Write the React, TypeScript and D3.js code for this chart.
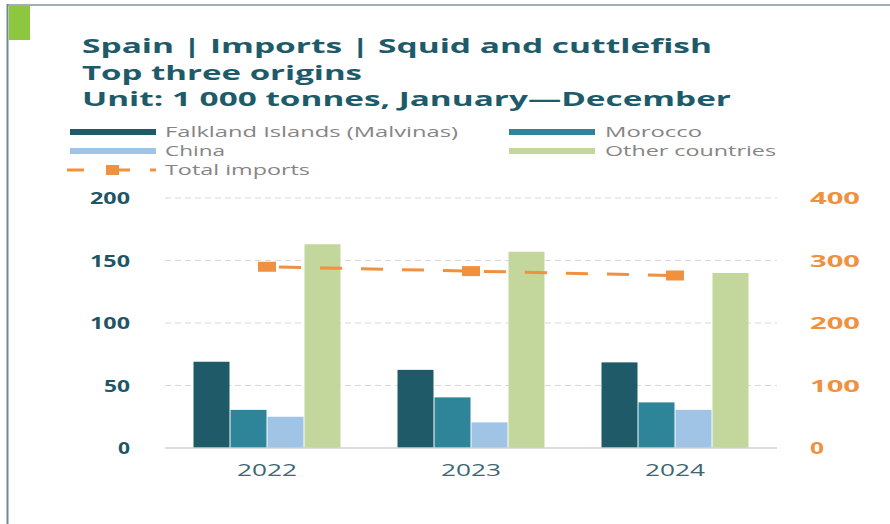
import React from "react";
import * as d3 from "d3";

const years = ["2022", "2023", "2024"];
const seriesNames = ["Falkland Islands (Malvinas)", "Morocco", "China", "Other countries"];
const falkland = [69, 62.5, 68.5];
const morocco = [30.5, 40.5, 36.5];
const china = [25, 20.5, 30.5];
const other = [163, 157, 140];
const totalImports = [290, 283, 276];
const leftTicks = [0, 50, 100, 150, 200];
const rightTicks = [0, 100, 200, 300, 400];
const titleLines = [
  "Spain | Imports | Squid and cuttlefish",
  "Top three origins",
  "Unit: 1 000 tonnes, January\u2014December",
];

const colors = ["#1f5a68", "#2e8499", "#9fc4e6", "#c3d69b"];
const orange = "#f0913f";
const teal = "#1e5b6a";
const FONT = "'Open Sans', 'DejaVu Sans', sans-serif";

export default function App() {
  const W = 890, H = 524;
  const plotL = 165, plotR = 777, plotT = 198, plotB = 448;
  const x = d3.scaleBand<string>().domain(years).range([plotL, plotR]).padding(0);
  const inner = d3.scaleBand<string>().domain(seriesNames).range([0, x.bandwidth()]).paddingInner(0).paddingOuter(0.757);
  const yL = d3.scaleLinear().domain([0, 200]).range([plotB, plotT]);
  const yR = d3.scaleLinear().domain([0, 400]).range([plotB, plotT]);
  const data = [falkland, morocco, china, other];
  const cx = (yr: string) => (x(yr) as number) + x.bandwidth() / 2;
  const line = d3.line<number>().x((_, i) => cx(years[i])).y((v) => yR(v));
  const lineD = line(totalImports) || "";

  const titleWidths = [630, 280, 649];
  const titleBase = [53, 80, 106];

  const legendItems = [
    { label: seriesNames[0], c: colors[0], sx: 70, tx: 165, y: 132, tw: 293 },
    { label: seriesNames[1], c: colors[1], sx: 509, tx: 605, y: 132, tw: 97 },
    { label: seriesNames[2], c: colors[2], sx: 70, tx: 165, y: 151, tw: 60 },
    { label: seriesNames[3], c: colors[3], sx: 509, tx: 605, y: 151, tw: 171 },
  ];

  return (
    <svg width={W} height={H} style={{ position: "absolute", left: 0, top: 0, background: "#fff" }} fontFamily={FONT}>
      <rect x={0} y={0} width={W} height={H} fill="#fff" />
      {/* frame */}
      <line x1={7} x2={W} y1={5} y2={5} stroke="#9fb0b8" strokeWidth={2} />
      <line x1={7.5} x2={7.5} y1={4} y2={H} stroke="#6e8894" strokeWidth={2} />
      <rect x={9} y={6} width={21} height={34} fill="#8dc63f" />

      {/* title */}
      {titleLines.map((t, i) => (
        <text key={t} x={82} y={titleBase[i]} fontSize={20} fontWeight={700} fill={teal}
          textLength={titleWidths[i]} lengthAdjust="spacingAndGlyphs">{t}</text>
      ))}

      {/* legend */}
      {legendItems.map((d) => (
        <g key={d.label}>
          <rect x={d.sx} y={d.y - 3} width={86} height={6} fill={d.c} />
          <text x={d.tx} y={d.y + 5} fontSize={15} fill="#858585" textLength={d.tw} lengthAdjust="spacingAndGlyphs">{d.label}</text>
        </g>
      ))}
      <g>
        <line x1={67} x2={84} y1={170} y2={170} stroke={orange} strokeWidth={3} />
        <rect x={106} y={165} width={13} height={10} fill={orange} />
        <line x1={119} x2={130} y1={170} y2={170} stroke={orange} strokeWidth={3} />
        <line x1={150} x2={156} y1={170} y2={170} stroke={orange} strokeWidth={3} />
        <text x={165} y={175} fontSize={15} fill="#858585" textLength={145} lengthAdjust="spacingAndGlyphs">Total imports</text>
      </g>

      {/* gridlines */}
      {leftTicks.filter((t) => t > 0).map((t) => (
        <line key={t} x1={plotL} x2={plotR} y1={yL(t)} y2={yL(t)} stroke="#d9d9d9" strokeWidth={1} strokeDasharray="6,4" />
      ))}

      {/* bars */}
      {years.map((yr, i) => (
        <g key={yr} transform={`translate(${x(yr)},0)`}>
          {seriesNames.map((s, k) => (
            <rect key={s} x={(inner(s) as number) + 0.5} width={inner.bandwidth() - 1}
              y={yL(data[k][i])} height={yL(0) - yL(data[k][i])} fill={colors[k]} />
          ))}
        </g>
      ))}

      {/* baseline */}
      <line x1={plotL} x2={plotR} y1={yL(0)} y2={yL(0)} stroke="#d0d0d0" strokeWidth={1.5} />

      {/* total imports line */}
      <path d={lineD} fill="none" stroke={orange} strokeWidth={3} strokeDasharray="22,19" strokeDashoffset={-12} />
      {totalImports.map((v, i) => (
        <rect key={i} x={cx(years[i]) - 9} y={yR(v) - 5} width={18} height={10} fill={orange} />
      ))}

      {/* left axis */}
      {leftTicks.map((t) => (
        <text key={t} x={130} y={yL(t) + 6} textAnchor="end" fontSize={16} fontWeight={700} fill="#1f5566"
          textLength={t === 0 ? 12 : t < 100 ? 26 : 40} lengthAdjust="spacingAndGlyphs">{t}</text>
      ))}
      {/* right axis */}
      {rightTicks.map((t) => (
        <text key={t} x={810} y={yR(t) + 6} textAnchor="start" fontSize={16} fontWeight={700} fill={orange}
          textLength={t === 0 ? 14 : 50} lengthAdjust="spacingAndGlyphs">{t}</text>
      ))}
      {/* x labels */}
      {years.map((yr) => (
        <text key={yr} x={cx(yr)} y={476} textAnchor="middle" fontSize={17} fill="#3f6673"
          textLength={60} lengthAdjust="spacingAndGlyphs">{yr}</text>
      ))}
    </svg>
  );
}
